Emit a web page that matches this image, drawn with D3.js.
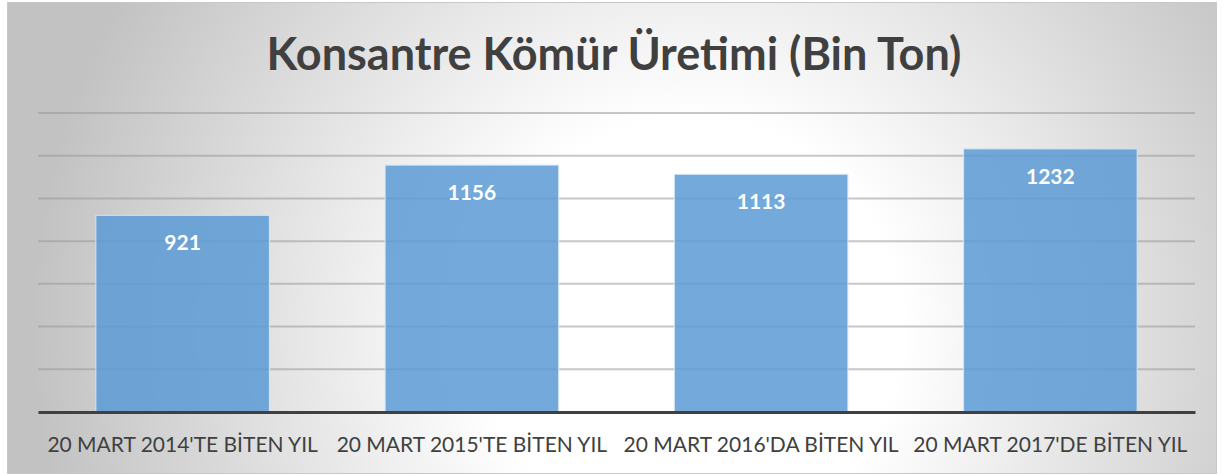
<!DOCTYPE html>
<html>
<head>
<meta charset="utf-8">
<script src="https://cdn.jsdelivr.net/npm/d3@7"></script>
<style>
  body { margin: 0; background: #fff; }
  svg { display: block; }
</style>
</head>
<body>
<div id="chart"></div>
<script>
// Data
const categories = [
    "20 MART 2014'TE BİTEN YIL",
    "20 MART 2015'TE BİTEN YIL",
    "20 MART 2016'DA BİTEN YIL",
    "20 MART 2017'DE BİTEN YIL"
];
const values = [921, 1156, 1113, 1232];
const yTicks = [0, 200, 400, 600, 800, 1000, 1200, 1400];

const W = 1224, H = 475;
const margin = { top: 113, right: 29, bottom: 63, left: 38 };
const width = W - margin.left - margin.right;
const height = H - margin.top - margin.bottom;
const font = "Lato, 'Open Sans', sans-serif";

const root = d3.select("#chart")
    .append("svg")
    .attr("width", W)
    .attr("height", H);

// background gradient like the office chart style
const defs = root.append("defs");
const grad = defs.append("radialGradient")
    .attr("id", "bg")
    .attr("gradientUnits", "userSpaceOnUse")
    .attr("cx", 690).attr("cy", 330).attr("r", 660);
grad.append("stop").attr("offset", "0%").attr("stop-color", "#ffffff");
grad.append("stop").attr("offset", "32%").attr("stop-color", "#ffffff");
grad.append("stop").attr("offset", "100%").attr("stop-color", "#c2c2c2");

root.append("rect")
    .attr("x", 7.5).attr("y", 2.5)
    .attr("width", 1209).attr("height", 471)
    .attr("fill", "url(#bg)")
    .attr("stroke", "#c8c8c8");

// title
root.append("text")
    .attr("x", 614)
    .attr("y", 70)
    .attr("text-anchor", "middle")
    .attr("font-family", font)
    .attr("font-weight", "bold")
    .attr("font-size", 45)
    .attr("fill", "#404040")
    .text("Konsantre Kömür Üretimi (Bin Ton)");

const svg = root.append("g")
    .attr("transform", `translate(${margin.left}, ${margin.top})`);

const x = d3.scaleBand()
    .domain(categories)
    .range([0, width])
    .paddingInner(0.4)
    .paddingOuter(0.2);

const y = d3.scaleLinear()
    .domain([0, 1400])
    .range([height, 0]);

// gridlines
svg.append("g")
    .selectAll("line")
    .data(yTicks.slice(1))
    .enter()
    .append("line")
    .attr("x1", 0)
    .attr("x2", width)
    .attr("y1", d => y(d))
    .attr("y2", d => y(d))
    .attr("stroke", "#999")
    .attr("stroke-opacity", 0.55)
    .attr("stroke-width", 2);

// bars
svg.selectAll(".bar")
    .data(values)
    .enter()
    .append("rect")
    .attr("class", "bar")
    .attr("x", (d, i) => x(categories[i]))
    .attr("y", d => y(d))
    .attr("width", x.bandwidth())
    .attr("height", d => height - y(d))
    .attr("fill", "#5b9bd5")
    .attr("fill-opacity", 0.85)
    .attr("stroke", "#d6e6f4")
    .attr("stroke-width", 1);

// value labels
svg.selectAll(".val")
    .data(values)
    .enter()
    .append("text")
    .attr("class", "val")
    .attr("x", (d, i) => x(categories[i]) + x.bandwidth() / 2)
    .attr("y", d => y(d) + 35)
    .attr("text-anchor", "middle")
    .attr("font-family", font)
    .attr("font-weight", "bold")
    .attr("font-size", 21)
    .attr("fill", "#ffffff")
    .text(d => d);

// x axis line and labels
const xAxis = svg.append("g")
    .attr("transform", `translate(0, ${height})`)
    .call(d3.axisBottom(x).tickSize(0).tickPadding(25));

xAxis.select(".domain")
    .attr("stroke", "#404040")
    .attr("stroke-width", 3);

xAxis.selectAll("text")
    .attr("font-family", font)
    .attr("font-size", 21)
    .attr("fill", "#404040");
</script>
</body>
</html>
